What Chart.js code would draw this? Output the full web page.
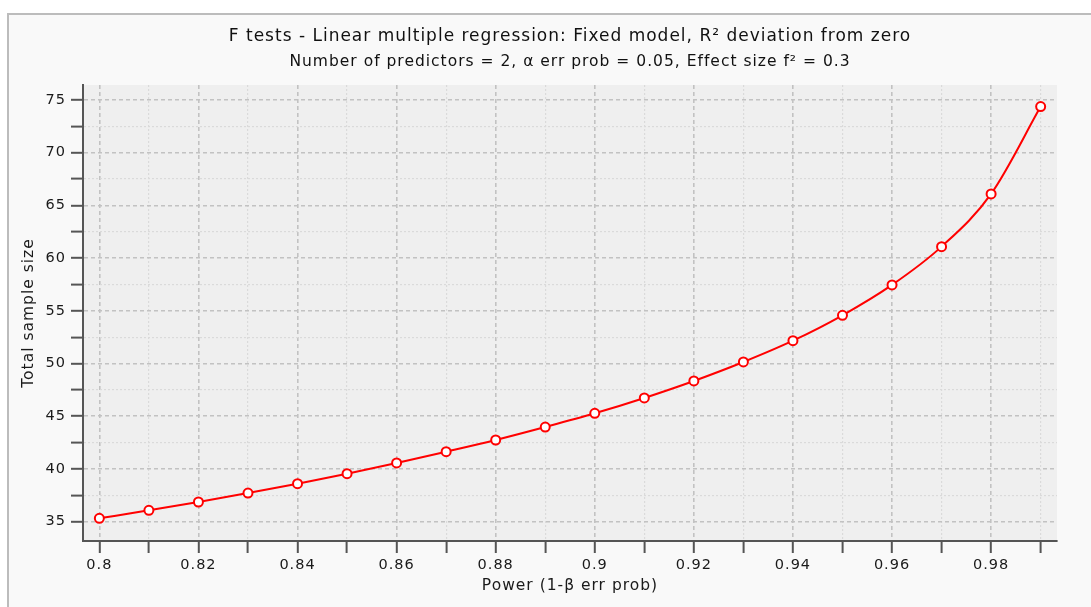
<!DOCTYPE html>
<html>
<head>
<meta charset="utf-8">
<script src="https://cdn.jsdelivr.net/npm/chart.js@4.4.1/dist/chart.umd.min.js"></script>
<style>
    html, body { margin: 0; padding: 0; background: #ffffff; }
    #panel {
        position: absolute; left: 7px; top: 13px; width: 1100px; height: 620px;
        background: #f9f9f9; border-left: 2px solid #bcbcbc; border-top: 2px solid #bcbcbc;
    }
    #powerChart { position: absolute; left: 0; top: 0; }
</style>
</head>
<body>
<div id="panel"></div>
<canvas id="powerChart" width="1091" height="607"></canvas>
<script>
// power (1-β err prob) on the x axis
const powerValues = [0.80, 0.81, 0.82, 0.83, 0.84, 0.85, 0.86, 0.87, 0.88, 0.89,
    0.90, 0.91, 0.92, 0.93, 0.94, 0.95, 0.96, 0.97, 0.98, 0.99];
// total sample size
const totalSampleSize = [35.32, 36.08, 36.87, 37.72, 38.61, 39.55, 40.57, 41.64, 42.75, 43.98,
    45.28, 46.74, 48.35, 50.15, 52.17, 54.58, 57.46, 61.09, 66.09, 74.37];

const chartTitle = 'F tests - Linear multiple regression: Fixed model, R² deviation from zero';
const chartSubtitle = 'Number of predictors = 2, α err prob = 0.05, Effect size f² = 0.3';
const xAxisTitle = 'Power (1-β err prob)';
const yAxisTitle = 'Total sample size';

const FONT = 'DejaVu Sans';

function isMajorY(v) { return Math.abs(v / 5 - Math.round(v / 5)) < 1e-6; }
function isMajorX(v) { return Math.round(v * 100) % 2 === 0; }

// plot background + slightly wider letter spacing like the original
const backdrop = {
    id: 'backdrop',
    beforeDraw(chart) {
        const { ctx, chartArea } = chart;
        ctx.letterSpacing = '1px';
        ctx.save();
        ctx.fillStyle = '#efefef';
        ctx.fillRect(chartArea.left, chartArea.top, chartArea.width, chartArea.height);
        ctx.restore();
    }
};

const ctx = document.getElementById('powerChart').getContext('2d');
const powerChart = new Chart(ctx, {
    type: 'line',
    data: {
        datasets: [{
            data: powerValues.map((p, i) => ({ x: p, y: totalSampleSize[i] })),
            borderColor: '#ff0000',
            borderWidth: 2,
            backgroundColor: '#ffffff',
            pointBackgroundColor: '#ffffff',
            pointBorderColor: '#ff0000',
            pointBorderWidth: 2,
            pointRadius: 4.5,
            cubicInterpolationMode: 'monotone',
            fill: false
        }]
    },
    options: {
        responsive: false,
        animation: false,
        devicePixelRatio: 1,
        layout: { padding: { left: 0, right: 34, top: 0, bottom: 0 } },
        plugins: {
            legend: { display: false },
            tooltip: { enabled: false },
            title: {
                display: true,
                fullSize: false,
                text: chartTitle,
                color: '#111111',
                font: { family: FONT, size: 17, weight: 'normal' },
                padding: { top: 26, bottom: 4 }
            },
            subtitle: {
                display: true,
                fullSize: false,
                text: chartSubtitle,
                color: '#111111',
                font: { family: FONT, size: 15.5, weight: 'normal' },
                padding: { top: 2, bottom: 14 }
            }
        },
        scales: {
            x: {
                type: 'linear',
                min: 0.7967,
                max: 0.9933,
                afterFit: (s) => { s.height = 66; },
                ticks: {
                    stepSize: 0.01,
                    includeBounds: false,
                    autoSkip: false,
                    maxRotation: 0,
                    padding: 4,
                    color: '#1a1a1a',
                    font: { family: FONT, size: 14.5 },
                    callback: (v) => isMajorX(v) ? String(+v.toFixed(2)) : ''
                },
                grid: {
                    color: (c) => c.tick && isMajorX(c.tick.value) ? '#c2c2c2' : '#dadada',
                    lineWidth: (c) => c.tick && isMajorX(c.tick.value) ? 1.6 : 1.2,
                    tickColor: '#555555',
                    tickLength: 12,
                    tickWidth: 2,
                    tickBorderDash: []
                },
                border: {
                    display: true,
                    color: '#555555',
                    width: 2,
                    dash: (c) => c.tick ? (isMajorX(c.tick.value) ? [4, 3] : [2, 2]) : []
                },
                title: {
                    display: true,
                    text: xAxisTitle,
                    color: '#1a1a1a',
                    font: { family: FONT, size: 15.5 },
                    padding: { top: 0, bottom: 12 }
                }
            },
            y: {
                type: 'linear',
                min: 33.17,
                max: 76.42,
                afterFit: (s) => { s.width = 83; },
                ticks: {
                    stepSize: 2.5,
                    includeBounds: false,
                    autoSkip: false,
                    padding: 5,
                    color: '#1a1a1a',
                    font: { family: FONT, size: 14.5 },
                    callback: (v) => isMajorY(v) ? String(Math.round(v)) : ''
                },
                grid: {
                    color: (c) => c.tick && isMajorY(c.tick.value) ? '#c2c2c2' : '#dadada',
                    lineWidth: (c) => c.tick && isMajorY(c.tick.value) ? 1.6 : 1.2,
                    tickColor: '#555555',
                    tickLength: 12,
                    tickWidth: 2,
                    tickBorderDash: []
                },
                border: {
                    display: true,
                    color: '#555555',
                    width: 2,
                    dash: (c) => c.tick ? (isMajorY(c.tick.value) ? [4, 3] : [2, 2]) : []
                },
                title: {
                    display: true,
                    text: yAxisTitle,
                    color: '#1a1a1a',
                    font: { family: FONT, size: 15.5 },
                    padding: { top: 20, bottom: 0 }
                }
            }
        }
    },
    plugins: [backdrop]
});
</script>
</body>
</html>
